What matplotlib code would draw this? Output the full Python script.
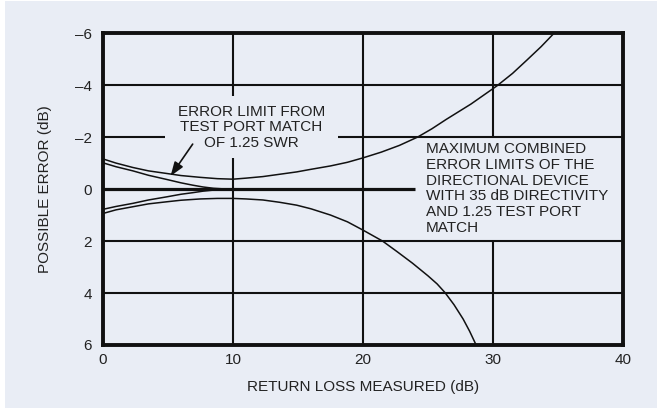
import matplotlib.pyplot as plt
from matplotlib.patches import Rectangle

plt.rcParams['font.family'] = ['Liberation Sans', 'DejaVu Sans']

# Return loss measured (dB) vs possible error (dB)
# combined limits, upper branch
upper_x = [0, 1, 2.3, 3.5, 4.9, 6, 7.5, 8.8, 10, 11, 12.3, 13.6, 14.9, 16, 17.5,
           18.8, 20, 21.4, 22.8, 24.2, 25.3, 26.4, 28.3, 30.3, 31.5, 32.6, 33.7, 34.7]
upper_y = [-1.16, -1.0, -0.83, -0.7, -0.6, -0.52, -0.45, -0.4, -0.38, -0.42, -0.48,
           -0.57, -0.66, -0.76, -0.89, -1.03, -1.2, -1.42, -1.68, -2.0, -2.32, -2.68,
           -3.27, -3.97, -4.45, -4.96, -5.48, -6.0]

# combined limits, lower branch
lower_x = [0, 1, 2.3, 3.5, 4.9, 6, 7.5, 8.8, 10, 11, 12.3, 13.6, 14.9, 16, 17.5,
           18.8, 20, 21.5, 22.6, 23.8, 25.0, 25.7, 26.3, 27.0, 27.7, 28.2, 28.7]
lower_y = [0.94, 0.8, 0.68, 0.57, 0.49, 0.43, 0.38, 0.36, 0.36, 0.38, 0.42, 0.51,
           0.62, 0.76, 1.0, 1.26, 1.58, 2.0, 2.4, 2.85, 3.34, 3.65, 3.98, 4.45, 5.0,
           5.47, 6.0]

# test port match only (1.25 SWR)
match_x = [0, 1, 2.3, 3.5, 4.9, 6, 6.9, 7.7, 8.5, 9.5]
match_hi = [-1.01, -0.86, -0.7, -0.53, -0.37, -0.24, -0.15, -0.08, -0.03, 0.0]
match_lo = [0.78, 0.67, 0.55, 0.42, 0.3, 0.2, 0.14, 0.08, 0.04, 0.0]

yticks = [-6, -4, -2, 0, 2, 4, 6]
ytick_labels = ['\u20136', '\u20134', '\u20132', '0', '2', '4', '6']
xticks = [0, 10, 20, 30, 40]

ink = '#111111'
txt = '#222222'
panel = '#e9edf5'

fig = plt.figure(figsize=(6.6, 4.09), dpi=100, facecolor='white')
fig.patches.append(Rectangle((0.0076, 0.0024), 0.988, 0.9952, transform=fig.transFigure,
                             facecolor=panel, edgecolor='none', zorder=-10))
ax = fig.add_axes([0.156, 0.1565, 0.788, 0.7625])
ax.set_facecolor(panel)

# grid lines, broken where the annotations sit
hlines = [(-4, 0, 40), (2, 0, 40), (4, 0, 40), (-2, 0, 4.8), (-2, 18.1, 40)]
vlines = [(20, -6, 6), (10, -6, -3.6), (10, -1.2, 6), (30, -6, -2), (30, 2, 6)]
for y, x0, x1 in hlines:
    ax.plot([x0, x1], [y, y], color=ink, lw=1.5, solid_capstyle='butt')
for x, y0, y1 in vlines:
    ax.plot([x, x], [y0, y1], color=ink, lw=1.5, solid_capstyle='butt')
ax.plot([0, 24], [0, 0], color=ink, lw=2.3, solid_capstyle='butt')

ax.plot(upper_x, upper_y, color=ink, lw=1.1)
ax.plot(lower_x, lower_y, color=ink, lw=1.1)
ax.plot(match_x, match_hi, color=ink, lw=1.1)
ax.plot(match_x, match_lo, color=ink, lw=1.1)

ax.set_xlim(0, 40)
ax.set_ylim(6, -6)
ax.set_xticks(xticks)
ax.set_yticks(yticks)
ax.set_yticklabels(ytick_labels)
ax.tick_params(length=0, labelsize=11, colors=txt)
ax.tick_params(axis='y', pad=8)
ax.tick_params(axis='x', pad=6)
for s in ax.spines.values():
    s.set_linewidth(2.8)
    s.set_color(ink)

ax.text(11.4, -2.38, 'ERROR LIMIT FROM\nTEST PORT MATCH\nOF 1.25 SWR',
        ha='center', va='center', multialignment='center', fontsize=11,
        color=txt, linespacing=1.12)
ax.text(24.85, -1.8, 'MAXIMUM COMBINED\nERROR LIMITS OF THE\nDIRECTIONAL DEVICE\n'
        'WITH 35 dB DIRECTIVITY\nAND 1.25 TEST PORT\nMATCH',
        ha='left', va='top', fontsize=11, color=txt, linespacing=1.15)
ax.annotate('', xy=(5.2, -0.5), xytext=(6.9, -1.73),
            arrowprops=dict(arrowstyle='-|>,head_length=0.7,head_width=0.25',
                            color=ink, lw=1.2, mutation_scale=12, shrinkA=0, shrinkB=0))

fig.text(45 / 660, 1 - 189 / 409, 'POSSIBLE ERROR (dB)', rotation=90, ha='center',
         va='center', fontsize=11, color=txt)
fig.text(363 / 660, 1 - 387 / 409, 'RETURN LOSS MEASURED (dB)', ha='center',
         va='center', fontsize=11, color=txt)

fig.savefig('out.png', dpi=100, facecolor='white')
